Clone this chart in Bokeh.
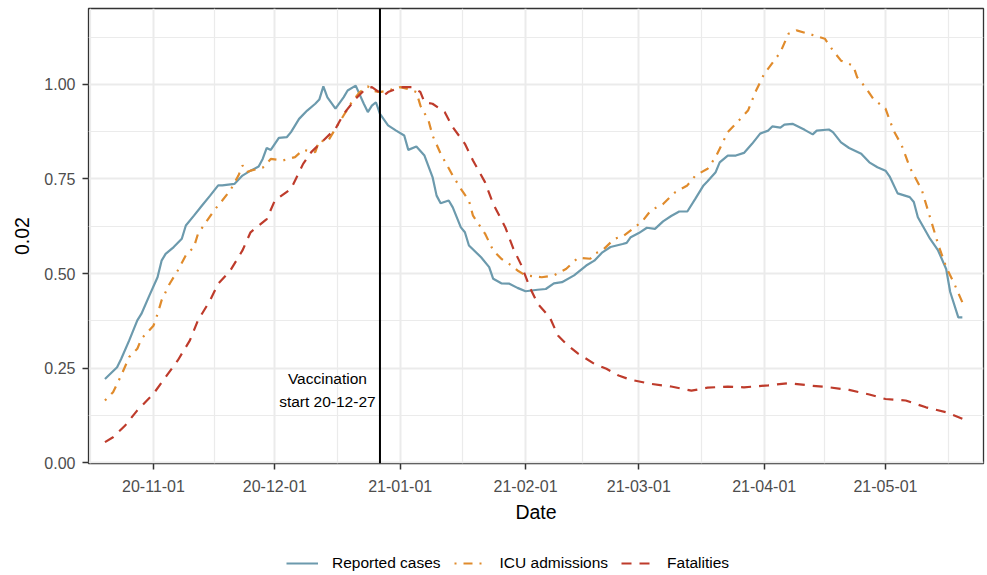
import pandas as pd
from bokeh.plotting import figure
from bokeh.layouts import column
from bokeh.models import (Range1d, FixedTicker, DatetimeTickFormatter, NumeralTickFormatter,
                          Span, Label, Legend, LegendItem)
from bokeh.embed import file_html
from bokeh.resources import INLINE

# ---------------- data (day offsets from base date, normalised values) ----------------
base_date = "2020-11-01"

cases_day = [-12, -9, -8, -6, -4, -3, -1, 1, 2, 3, 5, 7, 8, 10, 12, 14, 16, 17, 20, 22, 24, 26, 27, 28, 29,
             31, 33, 34, 36, 38, 40, 41, 42, 43, 45, 47, 48, 50, 52, 53, 54, 55, 56, 58, 60, 62, 63, 65, 67,
             69, 70, 71, 73, 74, 76, 77, 78, 81, 83, 84, 86, 88, 90, 92, 95, 97, 99, 101, 104, 107, 109, 111,
             113, 116, 117, 118, 120, 122, 124, 126, 128, 130, 132, 134, 136, 137, 139, 140, 142, 144, 146,
             148, 150, 152, 153, 155, 156, 158, 161, 163, 164, 167, 168, 170, 172, 175, 177, 179, 181, 182,
             184, 187, 188, 189, 192, 194, 196, 197, 199, 200]
cases_val = [0.221, 0.252, 0.274, 0.323, 0.376, 0.393, 0.442, 0.490, 0.534, 0.552, 0.570, 0.592, 0.627,
             0.653, 0.680, 0.706, 0.733, 0.733, 0.737, 0.759, 0.772, 0.783, 0.803, 0.832, 0.827, 0.859,
             0.861, 0.874, 0.909, 0.931, 0.949, 0.960, 0.995, 0.966, 0.936, 0.966, 0.984, 0.997, 0.949,
             0.927, 0.944, 0.953, 0.922, 0.892, 0.878, 0.865, 0.827, 0.836, 0.812, 0.755, 0.706, 0.686,
             0.693, 0.675, 0.622, 0.609, 0.574, 0.543, 0.517, 0.486, 0.474, 0.473, 0.462, 0.453, 0.457,
             0.459, 0.474, 0.477, 0.495, 0.521, 0.534, 0.556, 0.570, 0.578, 0.581, 0.596, 0.607, 0.621,
             0.618, 0.638, 0.652, 0.664, 0.664, 0.698, 0.733, 0.744, 0.768, 0.794, 0.812, 0.812, 0.819,
             0.843, 0.870, 0.878, 0.889, 0.886, 0.894, 0.896, 0.880, 0.868, 0.878, 0.881, 0.874, 0.847,
             0.832, 0.817, 0.794, 0.781, 0.772, 0.757, 0.712, 0.702, 0.689, 0.649, 0.592, 0.561, 0.512,
             0.451, 0.384, 0.384]

icu_day = [-12, -10, -8, -6, -4, -3, 0, 1, 2, 4, 6, 8, 10, 11, 13, 15, 17, 19, 21, 22, 23, 24, 27, 29, 32,
           35, 37, 40, 41, 43, 45, 47, 49, 51, 53, 54, 56, 58, 61, 63, 65, 66, 68, 69, 71, 74, 76, 78, 79,
           82, 84, 86, 88, 90, 92, 96, 99, 102, 105, 108, 109, 111, 114, 116, 119, 121, 123, 126, 129, 132,
           134, 137, 139, 142, 144, 147, 149, 151, 155, 157, 159, 162, 166, 168, 170, 173, 174, 176, 178,
           181, 183, 185, 187, 190, 192, 194, 196, 198, 200]
icu_val = [0.164, 0.186, 0.230, 0.279, 0.301, 0.327, 0.362, 0.393, 0.429, 0.473, 0.508, 0.548, 0.570,
           0.605, 0.636, 0.667, 0.693, 0.720, 0.759, 0.786, 0.768, 0.772, 0.780, 0.803, 0.799, 0.808, 0.827,
           0.821, 0.852, 0.848, 0.883, 0.918, 0.953, 0.980, 0.995, 0.984, 0.980, 0.984, 0.993, 0.988, 0.980,
           0.944, 0.905, 0.865, 0.817, 0.759, 0.724, 0.693, 0.653, 0.605, 0.561, 0.539, 0.525, 0.508, 0.495,
           0.490, 0.495, 0.512, 0.542, 0.539, 0.552, 0.561, 0.592, 0.598, 0.622, 0.640, 0.667, 0.684, 0.715,
           0.733, 0.759, 0.777, 0.808, 0.874, 0.896, 0.931, 0.984, 1.028, 1.085, 1.134, 1.143, 1.134, 1.121,
           1.090, 1.063, 1.050, 1.019, 0.993, 0.962, 0.936, 0.878, 0.839, 0.781, 0.720, 0.649, 0.578, 0.517,
           0.473, 0.424]

fat_day = [-12, -10, -7, -4, 0, 3, 6, 9, 11, 14, 16, 19, 22, 24, 28, 30, 34, 37, 39, 42, 45, 47, 50, 52,
           54, 57, 58, 61, 64, 66, 67, 69, 72, 74, 77, 79, 82, 84, 87, 89, 91, 93, 95, 98, 100, 102, 105,
           109, 112, 115, 118, 123, 128, 133, 137, 142, 146, 152, 157, 162, 167, 172, 177, 181, 186, 191,
           196, 200]
fat_val = [0.054, 0.067, 0.098, 0.138, 0.182, 0.226, 0.270, 0.323, 0.376, 0.429, 0.473, 0.508, 0.561,
           0.609, 0.644, 0.693, 0.724, 0.790, 0.821, 0.852, 0.883, 0.922, 0.962, 0.984, 0.993, 0.971, 0.980,
           0.993, 0.993, 0.980, 0.953, 0.949, 0.927, 0.887, 0.843, 0.799, 0.741, 0.684, 0.622, 0.565, 0.521,
           0.464, 0.420, 0.384, 0.336, 0.314, 0.288, 0.261, 0.248, 0.230, 0.219, 0.208, 0.201, 0.190, 0.198,
           0.201, 0.199, 0.204, 0.210, 0.204, 0.199, 0.192, 0.180, 0.168, 0.164, 0.146, 0.133, 0.116]

series_names = ["Reported cases", "ICU admissions", "Fatalities"]
series_colors = ["#6C9AAD", "#E08B2C", "#BE3B2B"]
series_dash = ["solid", "2 7 9 7", "10 8"]

x_tick_dates = ["2020-11-01", "2020-12-01", "2021-01-01", "2021-02-01", "2021-03-01", "2021-04-01", "2021-05-01"]
x_minor_bounds = ["2020-10-01"] + x_tick_dates + ["2021-06-01"]
y_ticks = [0.0, 0.25, 0.5, 0.75, 1.0]
y_minor = [0.125, 0.375, 0.625, 0.875, 1.125]

vacc_date = "2020-12-27"
vacc_text = ["Vaccination", "start 20-12-27"]
vacc_text_date = "2020-12-14"
vacc_text_y = [0.222, 0.161]

y_title = "0.02"
x_title = "Date"

# ---------------- helpers ----------------
base = pd.Timestamp(base_date)


def to_dates(days):
    return [base + pd.Timedelta(days=d) for d in days]


def ms(ts):
    return pd.Timestamp(ts).value / 1e6


FONT = "Liberation Sans"
W = 987
MAIN_H = 535
LEG_H = 40

x_start = base - pd.Timedelta(days=16.07)
x_end = base + pd.Timedelta(days=205.23)

p = figure(width=W, height=MAIN_H, x_axis_type="datetime", output_backend="svg", toolbar_location=None,
           x_range=Range1d(x_start, x_end), y_range=Range1d(-0.0026, 1.201),
           min_border_left=88, min_border_right=4, min_border_top=8, min_border_bottom=72)
p.background_fill_color = "white"
p.border_fill_color = "white"
p.outline_line_color = "#333333"
p.outline_line_width = 1.3

# ticks / grids
xt = FixedTicker(ticks=[ms(d) for d in x_tick_dates],
                 minor_ticks=[(ms(a) + ms(b)) / 2 for a, b in zip(x_minor_bounds[:-1], x_minor_bounds[1:])])
yt = FixedTicker(ticks=y_ticks, minor_ticks=y_minor)
p.xaxis.ticker = xt
p.yaxis.ticker = yt
p.xgrid.ticker = xt
p.ygrid.ticker = yt
fmt = "%y-%m-%d"
p.xaxis.formatter = DatetimeTickFormatter(milliseconds=fmt, seconds=fmt, minsec=fmt, minutes=fmt, hourmin=fmt,
                                          hours=fmt, days=fmt, months=fmt, years=fmt)
p.yaxis.formatter = NumeralTickFormatter(format="0.00")

for g in (p.xgrid, p.ygrid):
    g.grid_line_color = "#EBEBEB"
    g.grid_line_width = 2
    g.minor_grid_line_color = "#EBEBEB"
    g.minor_grid_line_width = 1.2

for ax in (p.xaxis, p.yaxis):
    ax.axis_line_color = None
    ax.major_tick_line_color = "#333333"
    ax.major_tick_line_width = 1.5
    ax.major_tick_out = 6
    ax.major_tick_in = 0
    ax.minor_tick_line_color = None
    ax.major_label_text_color = "#4D4D4D"
    ax.major_label_text_font = FONT
    ax.major_label_text_font_size = "16px"
    ax.axis_label_text_font = FONT
    ax.axis_label_text_font_size = "19.5px"
    ax.axis_label_text_font_style = "normal"
    ax.axis_label_text_color = "black"

p.xaxis.axis_label = x_title
p.yaxis.axis_label = y_title
p.xaxis.major_label_standoff = 10
p.yaxis.major_label_standoff = 7
p.xaxis.axis_label_standoff = 6
p.yaxis.axis_label_standoff = 12

# series
series = [(cases_day, cases_val), (icu_day, icu_val), (fat_day, fat_val)]
for (d, v), c, dash in zip(series, series_colors, series_dash):
    p.line(to_dates(d), v, line_color=c, line_width=2.2, line_dash=dash)

# vaccination line and text
p.add_layout(Span(location=ms(vacc_date), dimension="height", line_color="black", line_width=2))
for t, yv in zip(vacc_text, vacc_text_y):
    p.add_layout(Label(x=ms(vacc_text_date), y=yv, text=t, text_align="center", text_baseline="middle",
                       text_font=FONT, text_font_size="15.5px", text_color="black"))

# legend strip (separate figure below the plot; key renderers hold no visible data)
nan = float("nan")
pl = figure(width=W, height=LEG_H, output_backend="svg", toolbar_location=None,
            x_range=Range1d(0, 1), y_range=Range1d(0, 1), x_axis_location=None, y_axis_location=None,
            min_border=0)
pl.outline_line_color = None
pl.grid.visible = False
pl.background_fill_color = "white"
pl.border_fill_color = "white"
keys = [pl.line(x=[nan, nan], y=[nan, nan], line_color=c, line_width=2.2, line_dash=dash)
        for c, dash in zip(series_colors, series_dash)]
legend = Legend(items=[LegendItem(label=n, renderers=[r]) for n, r in zip(series_names, keys)],
                orientation="horizontal", location=(198, 2), glyph_width=32, glyph_height=20,
                label_standoff=14, spacing=13, padding=0, margin=0, border_line_color=None,
                background_fill_alpha=0, label_text_font=FONT, label_text_font_size="15.5px",
                label_text_color="black")
pl.add_layout(legend, "center")

layout = column(p, pl, spacing=0)
open("out.html", "w").write(file_html(layout, INLINE))
